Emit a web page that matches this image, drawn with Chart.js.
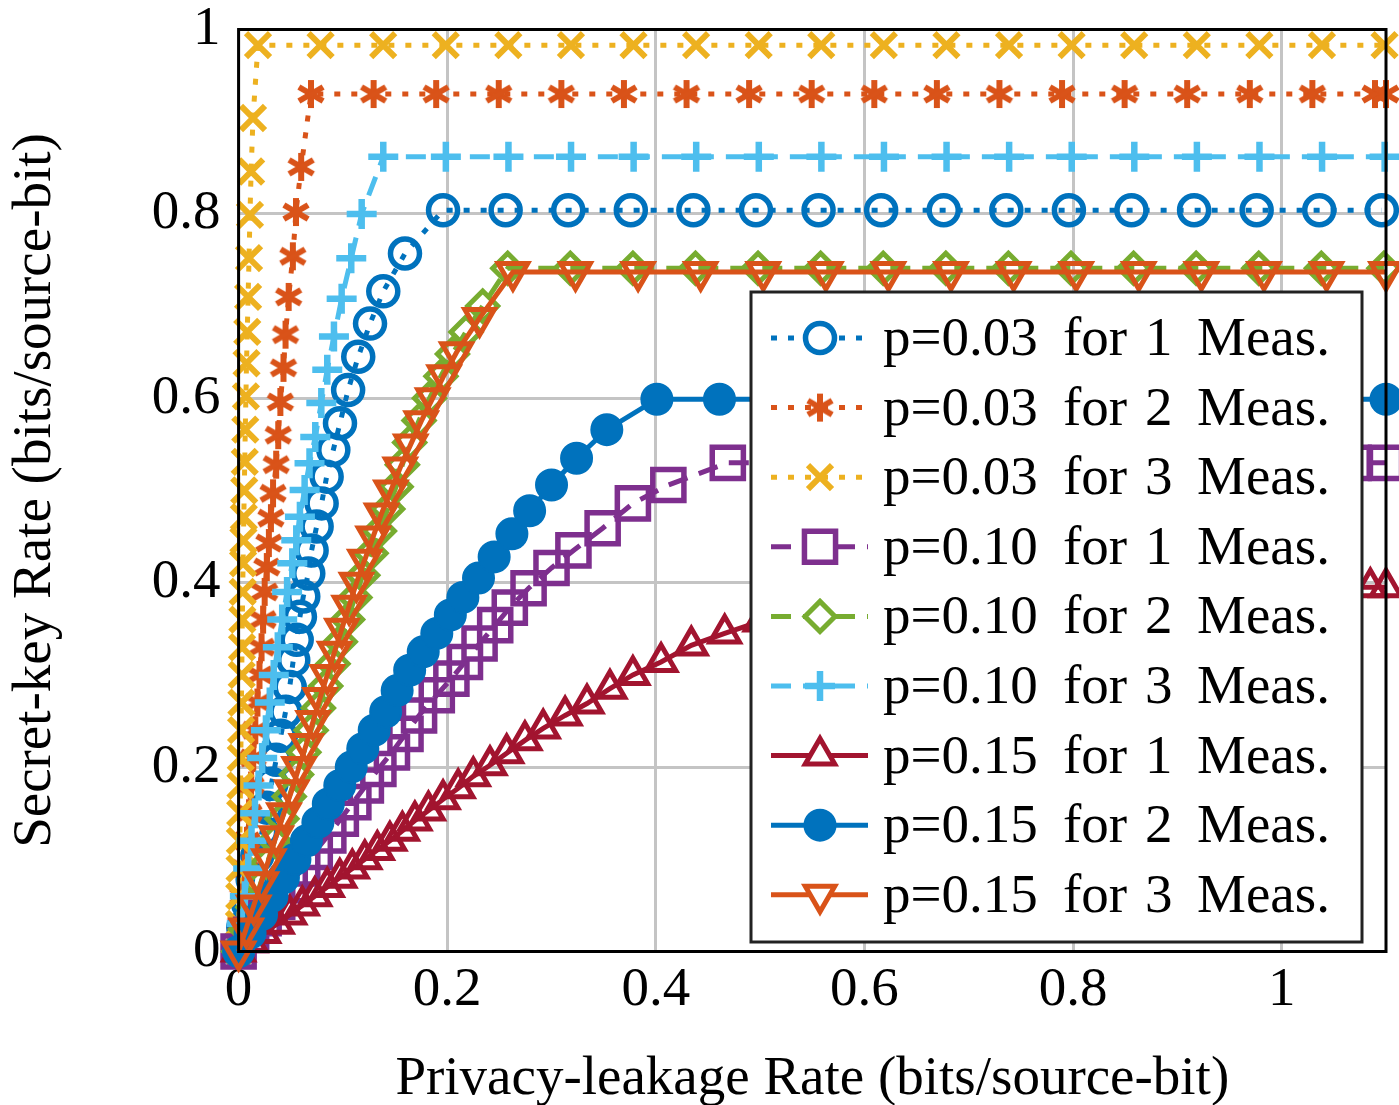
<!DOCTYPE html>
<html lang="en">
<head>
<meta charset="UTF-8">
<title>Secret-key vs privacy-leakage rate</title>
<script src="https://cdn.jsdelivr.net/npm/chart.js"></script>
<style>
    body { margin: 0; background: #fff; }
    #wrap { width: 1399px; height: 1105px; }
</style>
</head>
<body>
<div id="wrap"><canvas id="rateChart" width="1399" height="1105"></canvas></div>
<script>
// tick values
const xTicks = [0, 0.2, 0.4, 0.6, 0.8, 1];
const yTicks = [0, 0.2, 0.4, 0.6, 0.8, 1];

const seriesNames = [
    'p=0.03 for 1 Meas.', 'p=0.03 for 2 Meas.', 'p=0.03 for 3 Meas.',
    'p=0.10 for 1 Meas.', 'p=0.10 for 2 Meas.', 'p=0.10 for 3 Meas.',
    'p=0.15 for 1 Meas.', 'p=0.15 for 2 Meas.', 'p=0.15 for 3 Meas.'
];

// [privacy-leakage, secret-key] pairs
const p03m1 = [[0,0],[0.0045,0.026],[0.009,0.052],[0.0135,0.078],[0.018,0.104],[0.0225,0.13],[0.027,0.156],[0.0315,0.182],[0.036,0.208],[0.0405,0.234],[0.045,0.26],[0.049,0.287],[0.0524,0.316],[0.0557,0.338],[0.0588,0.363],[0.062,0.385],[0.0668,0.41],[0.07,0.435],[0.0748,0.461],[0.0796,0.486],[0.0844,0.515],[0.0908,0.544],[0.0972,0.573],[0.105,0.609],[0.1147,0.645],[0.126,0.681],[0.1387,0.716],[0.1595,0.757],
    [0.196,0.804],[0.256,0.804],[0.316,0.804],[0.376,0.804],[0.436,0.804],[0.496,0.804],[0.556,0.804],[0.616,0.804],[0.676,0.804],[0.736,0.804],[0.796,0.804],[0.856,0.804],[0.916,0.804],[0.976,0.804],[1.036,0.804],[1.096,0.804]];

const p03m2 = [[0,0],[0.002,0.03],[0.004,0.06],[0.006,0.09],[0.008,0.12],[0.01,0.15],[0.012,0.18],[0.014,0.21],[0.016,0.24],[0.018,0.27],[0.02,0.3],[0.022,0.33],[0.0235,0.36],[0.025,0.39],[0.027,0.417],[0.029,0.443],[0.031,0.47],[0.033,0.497],[0.036,0.528],[0.038,0.56],[0.04,0.596],[0.043,0.633],[0.045,0.669],[0.048,0.71],[0.052,0.754],[0.055,0.802],[0.06,0.851],
    [0.0694,0.93],[0.1294,0.93],[0.1894,0.93],[0.2494,0.93],[0.3094,0.93],[0.3694,0.93],[0.4294,0.93],[0.4894,0.93],[0.5494,0.93],[0.6094,0.93],[0.6694,0.93],[0.7294,0.93],[0.7894,0.93],[0.8494,0.93],[0.9094,0.93],[0.9694,0.93],[1.0294,0.93],[1.0894,0.93],[1.1,0.93]];

const p03m3 = [[0,0],[0.0003,0.03],[0.0006,0.06],[0.0009,0.09],[0.0012,0.12],[0.0015,0.15],[0.0018,0.18],[0.0021,0.21],[0.0024,0.24],[0.0027,0.27],[0.003,0.3],[0.0033,0.33],[0.0036,0.36],[0.0039,0.39],[0.0043,0.421],[0.0046,0.446],[0.005,0.471],[0.0054,0.5],[0.0059,0.531],[0.0064,0.566],[0.007,0.602],[0.0076,0.638],[0.0083,0.672],[0.0091,0.71],[0.01,0.752],[0.0109,0.799],[0.012,0.846],[0.0138,0.904],
    [0.0186,0.983],[0.0786,0.983],[0.1386,0.983],[0.1986,0.983],[0.2586,0.983],[0.3186,0.983],[0.3786,0.983],[0.4386,0.983],[0.4986,0.983],[0.5586,0.983],[0.6186,0.983],[0.6786,0.983],[0.7386,0.983],[0.7986,0.983],[0.8586,0.983],[0.9186,0.983],[0.9786,0.983],[1.0386,0.983],[1.0986,0.983]];

const p10m1 = [[0,0],[0.012,0.018],[0.024,0.036],[0.037,0.054],[0.049,0.072],[0.061,0.09],[0.073,0.108],[0.086,0.126],[0.098,0.144],[0.11,0.162],[0.122,0.18],[0.134,0.198],[0.147,0.216],[0.16,0.236],[0.173,0.256],[0.19,0.278],[0.204,0.296],[0.217,0.314],[0.231,0.334],[0.246,0.354],[0.26,0.373],[0.278,0.394],[0.3,0.416],[0.321,0.435],[0.349,0.459],[0.378,0.486],[0.412,0.506],
    [0.469,0.53],[0.529,0.53],[0.589,0.53],[0.649,0.53],[0.709,0.53],[0.769,0.53],[0.829,0.53],[0.889,0.53],[0.949,0.53],[1.009,0.53],[1.069,0.53],[1.1,0.53]];

const p10m2 = [[0,0],[0.0068,0.024],[0.0137,0.048],[0.0206,0.072],[0.0275,0.096],[0.0345,0.12],[0.0415,0.144],[0.0485,0.168],[0.0555,0.192],[0.0625,0.216],[0.0695,0.24],[0.0765,0.264],[0.0835,0.288],[0.0905,0.312],[0.0975,0.336],[0.1045,0.36],[0.1115,0.384],[0.119,0.408],[0.127,0.432],[0.135,0.456],[0.143,0.48],[0.151,0.504],[0.157,0.528],[0.164,0.552],[0.173,0.576],[0.183,0.6],[0.194,0.624],[0.205,0.648],[0.218,0.672],[0.234,0.7],
    [0.258,0.741],[0.318,0.741],[0.378,0.741],[0.438,0.741],[0.498,0.741],[0.558,0.741],[0.618,0.741],[0.678,0.741],[0.738,0.741],[0.798,0.741],[0.858,0.741],[0.918,0.741],[0.978,0.741],[1.038,0.741],[1.098,0.741]];

const p10m3 = [[0,0],[0.003,0.03],[0.006,0.06],[0.0092,0.09],[0.0124,0.12],[0.0157,0.15],[0.0191,0.18],[0.0226,0.21],[0.0262,0.24],[0.0299,0.27],[0.0337,0.3],[0.0376,0.33],[0.0418,0.36],[0.0465,0.39],[0.0515,0.421],[0.0553,0.446],[0.0588,0.4716],[0.0633,0.5005],[0.068,0.5295],[0.0735,0.558],[0.0793,0.595],[0.085,0.631],[0.0914,0.667],[0.0988,0.708],[0.108,0.752],[0.118,0.8],
    [0.1387,0.862],[0.1987,0.862],[0.2587,0.862],[0.3187,0.862],[0.3787,0.862],[0.4387,0.862],[0.4987,0.862],[0.5587,0.862],[0.6187,0.862],[0.6787,0.862],[0.7387,0.862],[0.7987,0.862],[0.8587,0.862],[0.9187,0.862],[0.9787,0.862],[1.0387,0.862],[1.0987,0.862]];

const p15m1 = [[0,0],[0.012,0.01],[0.024,0.02],[0.037,0.03],[0.049,0.04],[0.061,0.05],[0.073,0.06],[0.085,0.07],[0.097,0.08],[0.109,0.09],[0.121,0.1],[0.133,0.11],[0.145,0.12],[0.157,0.131],[0.169,0.142],[0.182,0.153],[0.196,0.165],[0.2105,0.177],[0.225,0.19],[0.241,0.202],[0.257,0.215],[0.2745,0.229],[0.292,0.242],[0.313,0.256],[0.334,0.269],[0.356,0.285],[0.378,0.3],[0.405,0.314],[0.434,0.332],[0.466,0.345],[0.5,0.358],[0.535,0.37],[0.57,0.382],
    [0.605,0.395],[0.665,0.395],[0.725,0.395],[0.785,0.395],[0.845,0.395],[0.905,0.395],[0.965,0.395],[1.025,0.395],[1.085,0.395],[1.1,0.395]];

const p15m2 = [[0,0],[0.011,0.02],[0.022,0.04],[0.032,0.06],[0.043,0.08],[0.054,0.1],[0.065,0.12],[0.076,0.14],[0.086,0.16],[0.097,0.18],[0.108,0.2],[0.119,0.22],[0.13,0.24],[0.141,0.26],[0.152,0.283],[0.164,0.305],[0.177,0.325],[0.19,0.345],[0.203,0.365],[0.215,0.384],[0.23,0.405],[0.245,0.428],[0.262,0.453],[0.279,0.478],[0.3,0.506],[0.324,0.535],[0.353,0.566],
    [0.401,0.599],[0.461,0.599],[0.521,0.599],[0.581,0.599],[0.641,0.599],[0.701,0.599],[0.761,0.599],[0.821,0.599],[0.881,0.599],[0.941,0.599],[1.001,0.599],[1.061,0.599],[1.1,0.599]];

const p15m3 = [[0,0],[0.0073,0.025],[0.0145,0.05],[0.0218,0.075],[0.029,0.1],[0.036,0.125],[0.0435,0.15],[0.051,0.175],[0.058,0.2],[0.065,0.225],[0.0715,0.25],[0.078,0.275],[0.085,0.3],[0.092,0.325],[0.099,0.35],[0.106,0.375],[0.113,0.4],[0.121,0.425],[0.129,0.45],[0.137,0.475],[0.146,0.5],[0.155,0.525],[0.165,0.55],[0.175,0.575],[0.186,0.6],[0.197,0.625],[0.209,0.65],[0.231,0.687],
    [0.263,0.737],[0.323,0.737],[0.383,0.737],[0.443,0.737],[0.503,0.737],[0.563,0.737],[0.623,0.737],[0.683,0.737],[0.743,0.737],[0.803,0.737],[0.863,0.737],[0.923,0.737],[0.983,0.737],[1.043,0.737],[1.1,0.737]];

const allSeries = [p03m1, p03m2, p03m3, p10m1, p10m2, p10m3, p15m1, p15m2, p15m3];

// six-armed asterisk like the pgfplots one
function makeAsterisk(color) {
    const c = document.createElement('canvas');
    c.width = 34; c.height = 34;
    const g = c.getContext('2d');
    g.strokeStyle = color;
    g.lineWidth = 6;
    for (const a of [90, 30, 150]) {
        const r = a * Math.PI / 180;
        g.beginPath();
        g.moveTo(17 - Math.cos(r) * 14, 17 - Math.sin(r) * 14);
        g.lineTo(17 + Math.cos(r) * 14, 17 + Math.sin(r) * 14);
        g.stroke();
    }
    return c;
}

const DOT = [6, 11];
const DASH = [20, 12];
const styles = [
    { color: '#0072BD', dash: DOT,  point: 'circle',   radius: 14.5, bw: 5.5, filled: false },
    { color: '#D95319', dash: DOT,  point: makeAsterisk('#D95319'), radius: 14, bw: 5, filled: false },
    { color: '#EDB120', dash: DOT,  point: 'crossRot', radius: 17, bw: 6,   filled: false },
    { color: '#7E2F8E', dash: DASH, point: 'rect',     radius: 22, bw: 5.5, filled: false },
    { color: '#77AC30', dash: DASH, point: 'rectRot',  radius: 15, bw: 5,   filled: false },
    { color: '#4DBEEE', dash: DASH, point: 'cross',    radius: 15, bw: 6.5, filled: false },
    { color: '#A2142F', dash: [],   point: 'triangle', radius: 17, bw: 5,   filled: false },
    { color: '#0072BD', dash: [],   point: 'circle',   radius: 15.5, bw: 2, filled: true },
    { color: '#D95319', dash: [],   point: 'triangle', radius: 17, bw: 5,   filled: false, rot: 180 }
];

const datasets = allSeries.map((pts, i) => {
    const s = styles[i];
    return {
        label: seriesNames[i],
        data: pts.map(p => ({ x: p[0], y: p[1] })),
        borderColor: s.color,
        backgroundColor: s.color,
        borderWidth: 5,
        borderDash: s.dash,
        pointStyle: s.point,
        pointRadius: s.radius,
        pointRotation: s.rot || 0,
        pointBorderWidth: s.bw,
        pointBorderColor: s.color,
        pointBackgroundColor: s.filled ? s.color : 'rgba(0,0,0,0)',
        tension: 0,
        clip: false,
        order: 9 - i
    };
});

const serif = 'Liberation Serif';

// box around the plot, drawn over the marks
const framePlugin = {
    id: 'frame',
    afterDatasetsDraw(chart) {
        const a = chart.chartArea;
        const ctx = chart.ctx;
        ctx.save();
        ctx.strokeStyle = '#000';
        ctx.lineWidth = 3;
        ctx.setLineDash([]);
        ctx.strokeRect(a.left, a.top, a.right - a.left, a.bottom - a.top);
        ctx.restore();
    }
};

// boxed legend with line + marker samples
const legendLayout = { left: 751, top: 292, width: 611, height: 650, row0: 338, step: 69.6,
                       lineFrom: 771, lineTo: 868, mark: 820, words: [883, 1063, 1145, 1197] };
const legendPlugin = {
    id: 'boxLegend',
    afterDraw(chart) {
        const L = legendLayout;
        const ctx = chart.ctx;
        ctx.save();
        ctx.fillStyle = '#fff';
        ctx.fillRect(L.left, L.top, L.width, L.height);
        ctx.strokeStyle = '#222';
        ctx.lineWidth = 3;
        ctx.strokeRect(L.left, L.top, L.width, L.height);
        seriesNames.forEach((name, i) => {
            const s = styles[i];
            const y = L.row0 + i * L.step;
            ctx.strokeStyle = s.color;
            ctx.lineWidth = 5;
            ctx.setLineDash(s.dash);
            ctx.beginPath();
            ctx.moveTo(L.lineFrom, y);
            ctx.lineTo(L.lineTo, y);
            ctx.stroke();
            ctx.setLineDash([]);
            ctx.fillStyle = s.filled ? s.color : '#fff';
            ctx.lineWidth = s.bw;
            Chart.helpers.drawPoint(ctx, { pointStyle: s.point, rotation: s.rot || 0, radius: s.radius, borderWidth: s.bw }, L.mark, y);
            ctx.fillStyle = '#000';
            ctx.font = '55px "' + serif + '"';
            ctx.textBaseline = 'alphabetic';
            ctx.textAlign = 'left';
            name.split(' ').forEach((w, k) => ctx.fillText(w, L.words[k], y + 17));
        });
        ctx.restore();
    }
};

new Chart(document.getElementById('rateChart'), {
    type: 'line',
    data: { datasets: datasets },
    options: {
        responsive: false,
        animation: false,
        events: [],
        layout: { autoPadding: false, padding: { top: 29.5, right: 13, bottom: 0, left: 0 } },
        plugins: { legend: { display: false }, tooltip: { enabled: false } },
        scales: {
            x: {
                type: 'linear',
                min: 0,
                max: 1.1,
                afterBuildTicks: s => { s.ticks = xTicks.map(v => ({ value: v })); },
                afterFit: s => { s.height = 153.5; s.paddingLeft = 0; s.paddingRight = 0; },
                grid: { color: '#c4c4c4', lineWidth: 3, drawTicks: false },
                border: { display: false },
                ticks: {
                    font: { family: serif, size: 55, lineHeight: 1 },
                    color: '#000',
                    padding: 12,
                    maxRotation: 0,
                    autoSkip: false,
                    callback: v => String(v)
                },
                title: {
                    display: true,
                    text: 'Privacy-leakage Rate (bits/source-bit)',
                    font: { family: serif, size: 55, lineHeight: 1 },
                    color: '#000',
                    padding: { top: 0, bottom: -2 }
                }
            },
            y: {
                type: 'linear',
                min: 0,
                max: 1,
                afterBuildTicks: s => { s.ticks = yTicks.map(v => ({ value: v })); },
                afterFit: s => { s.width = 238.6; s.paddingTop = 0; s.paddingBottom = 0; },
                grid: { color: '#c4c4c4', lineWidth: 3, drawTicks: false },
                border: { display: false },
                ticks: {
                    font: { family: serif, size: 55, lineHeight: 1 },
                    color: '#000',
                    padding: 18,
                    callback: v => String(v)
                },
                title: {
                    display: true,
                    text: 'Secret-key Rate (bits/source-bit)',
                    font: { family: serif, size: 55, lineHeight: 1 },
                    color: '#000',
                    padding: { top: 8, bottom: 0 }
                }
            }
        }
    },
    plugins: [framePlugin, legendPlugin]
});
</script>
</body>
</html>
